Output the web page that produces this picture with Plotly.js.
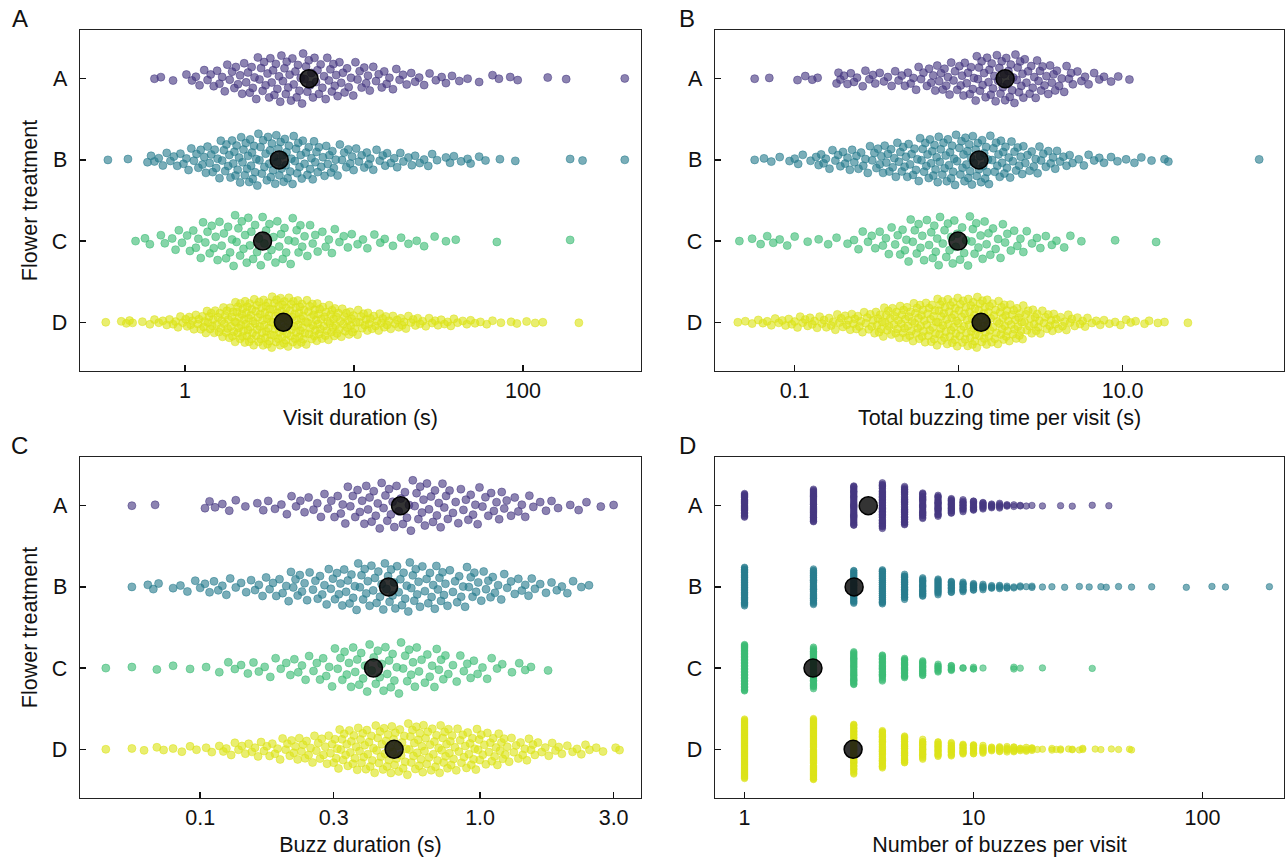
<!DOCTYPE html>
<html><head><meta charset="utf-8">
<script src="https://cdn.plot.ly/plotly-3.0.1.min.js"></script>
<style>html,body{margin:0;padding:0;background:#fff}#chart{width:1286px;height:857px}</style>
</head><body><div id="chart"></div>
<script>
const categories = ['A','B','C','D'];

// ---------- Panel A: Visit duration (s) ----------
const visitA = [0.66,0.72,0.85,1.02,1.1,1.16,1.22,1.3,1.36,1.42,1.48,1.55,1.6,1.66,1.72,1.78,1.84,1.9,1.96,
2.0,2.06,2.12,2.18,2.24,2.3,2.36,2.42,2.48,2.52,2.58,2.64,2.7,2.76,2.82,2.88,2.94,3.0,3.08,3.15,
3.2,3.26,3.32,3.38,3.45,3.52,3.6,3.66,3.72,3.8,3.88,3.95,4.0,4.08,4.16,4.24,4.32,4.4,4.5,4.58,4.66,4.75,4.84,4.93,
5.0,5.1,5.2,5.3,5.4,5.5,5.6,5.72,5.84,5.96,6.08,6.2,6.35,6.5,6.65,6.8,6.95,7.1,7.25,7.4,7.55,7.7,7.85,
8.0,8.2,8.4,8.6,8.8,9.1,9.3,9.6,9.9,10.2,10.5,10.8,11.1,11.5,11.8,12.1,12.4,13,13.5,14,14.6,15.1,15.6,
16.2,17,17.8,18.6,19.5,20.5,21.8,23,24.3,26,28,30.5,33,35,38,42,47,55,66,72,84,93,140,180,400];
const visitB = [0.35,0.46,0.6,0.63,0.66,0.7,0.74,0.78,0.82,0.86,0.9,0.94,0.98,1.02,1.05,1.09,1.13,1.17,1.2,1.24,
1.27,1.3,1.33,1.36,1.4,1.43,1.46,1.5,1.53,1.56,1.6,1.63,1.66,1.7,1.73,1.76,1.8,1.83,1.86,1.9,1.93,1.96,1.99,
2.02,2.05,2.09,2.12,2.15,2.19,2.22,2.26,2.29,2.33,2.36,2.4,2.43,2.46,2.49,2.52,2.56,2.6,2.64,2.68,2.72,2.76,2.8,2.85,2.9,2.95,3.0,3.05,3.1,3.15,3.19,
3.22,3.27,3.32,3.37,3.42,3.47,3.52,3.57,3.62,3.68,3.73,3.78,3.84,3.9,3.95,3.99,4.05,4.12,4.19,4.26,4.33,4.4,4.47,4.54,4.61,4.68,4.76,4.84,4.91,4.98,
5.1,5.2,5.3,5.4,5.5,5.6,5.7,5.8,5.9,6.0,6.1,6.2,6.4,6.55,6.7,6.85,7.0,7.15,7.3,7.45,7.6,7.8,
8.0,8.25,8.5,8.75,9.0,9.25,9.5,9.75,9.95,10.3,10.7,11.1,11.5,11.9,12.2,12.5,13,13.6,14.2,14.8,15.3,15.7,
16.5,17.3,18,18.8,19.6,21,22,23,24.5,26,27.5,29,31,35,37,39,43,47,49,55,60,73,90,190,225,400];
const visitC = [0.51,0.58,0.62,0.72,0.76,0.84,0.88,0.92,0.96,1.03,1.07,1.12,1.16,1.2,1.24,1.28,1.32,1.36,1.4,1.44,1.48,1.52,1.56,
1.6,1.65,1.7,1.75,1.8,1.85,1.9,1.94,1.98,2.02,2.07,2.12,2.17,2.22,2.27,2.32,2.37,2.42,2.47,2.53,2.6,2.67,2.74,2.81,2.88,2.95,3.02,3.09,3.16,
3.25,3.34,3.43,3.52,3.61,3.7,3.79,3.88,3.97,4.1,4.22,4.34,4.46,4.58,4.7,4.82,4.94,5.1,5.3,5.5,5.7,5.9,6.1,
6.5,6.8,7.1,7.4,7.7,8.2,8.7,9.2,9.7,10.5,11.3,12,13.2,14.3,15.2,17,19,21,23.5,26,30,35,40,70,190];
const visitD = [0.34,0.42,0.45,0.47,0.49,0.56,0.62,0.66,0.7,0.74,0.78,0.81,0.85,0.88,0.91,0.94,0.97,
1.01,1.03,1.06,1.08,1.11,1.13,1.16,1.19,1.21,1.24,1.27,1.29,1.31,1.33,1.35,1.37,1.39,1.41,1.43,1.45,1.47,1.49,1.51,1.54,1.57,
1.59,1.61,1.63,1.65,1.67,1.69,1.71,1.73,1.75,1.77,1.79,1.81,1.83,1.85,1.87,1.89,1.91,1.93,1.95,1.97,1.98,1.99,
2.01,2.03,2.05,2.06,2.08,2.1,2.12,2.13,2.15,2.17,2.19,2.2,2.22,2.24,2.26,2.27,2.29,2.31,2.33,2.34,2.36,2.38,2.4,2.41,2.43,2.45,2.47,2.49,
2.51,2.53,2.55,2.57,2.6,2.62,2.64,2.66,2.68,2.7,2.73,2.75,2.77,2.79,2.81,2.84,2.86,2.88,2.9,2.92,2.95,2.97,2.99,3.01,3.03,3.06,3.08,3.1,3.12,3.14,3.16,3.18,
3.21,3.23,3.26,3.28,3.31,3.33,3.36,3.38,3.41,3.43,3.46,3.48,3.51,3.53,3.56,3.58,3.61,3.63,3.66,3.68,3.71,3.73,3.76,3.78,3.81,3.83,3.86,3.88,3.91,3.93,3.96,3.98,
4.02,4.05,4.08,4.12,4.15,4.18,4.22,4.25,4.28,4.32,4.35,4.38,4.42,4.45,4.48,4.52,4.55,4.58,4.62,4.65,4.68,4.72,4.75,4.78,4.82,4.85,4.88,4.92,4.95,4.98,
5.02,5.07,5.12,5.17,5.22,5.27,5.32,5.37,5.42,5.47,5.52,5.57,5.62,5.67,5.72,5.77,5.82,5.87,5.92,5.97,6.02,6.07,6.12,6.17,6.22,6.27,
6.33,6.4,6.47,6.55,6.62,6.69,6.77,6.84,6.91,6.98,7.06,7.13,7.2,7.28,7.35,7.42,7.5,7.57,7.64,7.71,7.79,7.86,
7.95,8.07,8.18,8.3,8.42,8.53,8.65,8.77,8.88,9.0,9.12,9.23,9.35,9.47,9.58,9.7,9.82,9.93,
10.1,10.3,10.5,10.6,10.8,11.0,11.2,11.4,11.6,11.8,12.0,12.1,12.3,12.5,12.8,13.1,13.4,13.7,14.0,14.2,14.5,14.8,15.1,15.4,15.7,
16.1,16.5,17,17.5,18,18.4,18.9,19.3,19.8,20.3,21,21.7,22.4,23.1,23.8,24.6,25.5,26.6,27.8,29,30.2,31.4,32.8,34.3,35.8,37.4,39,
41,44,46.5,49,52,56,61,66,74,85,92,105,118,131,214];
const visitMeans = [5.42, 3.61, 2.88, 3.82];

// ---------- Panel B: Total buzzing time per visit (s) ----------
const buzzTimeA = [0.057,0.07,0.104,0.116,0.128,0.138,0.18,0.185,0.19,0.2,0.21,0.22,0.23,0.24,0.26,0.27,0.285,0.3,0.31,
0.33,0.35,0.37,0.39,0.41,0.43,0.45,0.47,0.49,0.51,0.53,0.55,0.57,0.59,0.61,0.64,0.66,0.68,0.7,0.72,0.74,0.76,0.78,
0.8,0.82,0.84,0.86,0.88,0.9,0.93,0.95,0.98,1.01,1.03,1.05,1.07,1.09,1.12,1.14,1.17,1.19,1.22,1.24,
1.27,1.29,1.31,1.33,1.35,1.38,1.4,1.43,1.46,1.49,1.52,1.54,1.57,1.59,1.62,1.65,1.68,1.71,1.74,1.77,1.8,1.83,1.86,1.89,1.92,1.95,1.98,
2.01,2.05,2.08,2.12,2.15,2.19,2.22,2.26,2.29,2.33,2.37,2.41,2.45,2.48,2.53,2.59,2.65,2.71,2.77,2.83,2.89,2.95,3.01,3.07,3.13,3.18,
3.25,3.34,3.43,3.52,3.61,3.7,3.79,3.88,3.97,4.1,4.25,4.4,4.55,4.7,4.85,4.97,5.3,5.6,5.9,6.2,6.7,7.2,7.7,8.5,9.4,11];
const buzzTimeB = [0.057,0.065,0.072,0.081,0.093,0.1,0.105,0.112,0.125,0.135,0.14,0.145,0.15,0.155,0.163,0.17,0.177,0.184,0.19,0.197,
0.203,0.21,0.217,0.224,0.231,0.238,0.245,0.254,0.262,0.27,0.279,0.288,0.297,0.306,0.315,0.322,0.33,0.338,0.346,0.354,0.362,0.37,0.378,0.387,0.396,
0.405,0.414,0.423,0.432,0.441,0.45,0.459,0.468,0.477,0.486,0.495,0.505,0.516,0.527,0.538,0.549,0.56,0.571,0.582,0.593,0.604,0.615,0.626,
0.635,0.646,0.657,0.668,0.679,0.69,0.701,0.712,0.723,0.734,0.745,0.756,0.767,0.778,0.795,0.808,0.821,0.834,0.847,0.86,0.873,0.886,0.899,0.912,0.925,0.938,0.951,0.964,0.977,
1.01,1.025,1.04,1.055,1.07,1.085,1.1,1.115,1.13,1.145,1.16,1.175,1.19,1.205,1.22,1.235,1.27,1.29,1.31,1.33,1.35,1.37,1.39,1.41,1.43,1.45,1.47,1.49,1.51,1.53,1.56,
1.6,1.63,1.66,1.69,1.72,1.75,1.78,1.81,1.84,1.87,1.9,1.93,1.97,2.02,2.06,2.1,2.14,2.19,2.24,2.29,2.34,2.39,2.44,2.48,
2.55,2.63,2.71,2.79,2.87,2.95,3.03,3.11,3.18,3.28,3.4,3.52,3.64,3.76,3.88,3.98,4.15,4.35,4.55,4.75,4.95,5.4,5.8,6.2,6.7,7.2,7.7,8.5,9.3,10.5,11.8,13,15,18,19,68];
const buzzTimeC = [0.046,0.055,0.062,0.068,0.074,0.081,0.09,0.1,0.12,0.14,0.16,0.18,0.21,0.23,0.245,0.26,0.28,0.295,0.31,
0.33,0.345,0.36,0.375,0.39,0.41,0.425,0.44,0.455,0.47,0.48,0.495,0.51,0.525,0.54,0.555,0.57,0.585,0.6,0.615,
0.64,0.66,0.68,0.695,0.71,0.725,0.74,0.755,0.77,0.8,0.82,0.84,0.86,0.88,0.9,0.92,0.94,0.96,0.98,
1.02,1.05,1.08,1.11,1.14,1.17,1.2,1.22,1.25,1.28,1.32,1.36,1.4,1.44,1.48,1.52,1.56,1.62,1.68,1.74,1.8,1.86,1.92,1.98,
2.08,2.18,2.28,2.38,2.48,2.6,2.8,3.0,3.15,3.4,3.7,3.95,4.4,4.8,5.6,9,16];
const buzzTimeD = [0.045,0.05,0.055,0.06,0.064,0.068,0.072,0.076,0.08,0.084,0.088,0.092,0.096,0.1,0.104,0.108,0.112,0.116,0.12,0.124,
0.128,0.132,0.137,0.142,0.147,0.151,0.156,0.162,0.167,0.172,0.177,0.182,0.187,0.192,0.197,
0.203,0.208,0.213,0.218,0.223,0.228,0.233,0.238,0.243,0.248,0.253,0.259,0.265,0.271,0.277,0.283,0.289,0.295,0.301,0.307,0.313,0.318,
0.322,0.327,0.332,0.337,0.342,0.347,0.352,0.357,0.362,0.367,0.372,0.377,0.383,0.389,0.395,
0.402,0.407,0.413,0.418,0.424,0.429,0.435,0.44,0.446,0.451,0.457,0.462,0.468,0.473,0.479,0.484,0.49,0.496,
0.503,0.509,0.515,0.521,0.527,0.533,0.539,0.545,0.551,0.557,0.563,0.569,0.575,0.581,0.587,0.593,0.599,0.605,0.611,0.617,0.624,
0.632,0.639,0.646,0.653,0.66,0.667,0.674,0.681,0.688,0.695,0.702,0.709,0.716,0.723,0.73,0.737,0.744,0.751,0.758,0.765,0.772,0.778,0.784,0.789,
0.795,0.803,0.811,0.819,0.827,0.835,0.843,0.851,0.859,0.867,0.875,0.883,0.891,0.899,0.907,0.915,0.923,0.931,0.939,0.947,0.955,0.963,0.971,0.979,0.987,0.995,
1.005,1.015,1.025,1.035,1.045,1.055,1.065,1.075,1.085,1.095,1.105,1.115,1.125,1.135,1.145,1.155,1.165,1.175,1.185,1.195,1.205,1.215,1.225,1.235,1.245,1.252,1.258,
1.265,1.277,1.289,1.301,1.313,1.325,1.337,1.349,1.361,1.373,1.385,1.397,1.409,1.421,1.433,1.445,1.457,1.469,1.481,1.493,1.505,1.517,1.529,1.541,1.553,1.567,
1.59,1.608,1.626,1.644,1.662,1.68,1.698,1.716,1.734,1.752,1.77,1.788,1.806,1.824,1.842,1.86,1.878,1.896,1.914,1.932,1.95,1.968,1.986,
2.01,2.036,2.062,2.088,2.114,2.14,2.166,2.192,2.218,2.244,2.27,2.296,2.322,2.348,2.374,2.4,2.426,2.452,2.478,
2.52,2.565,2.61,2.655,2.7,2.745,2.79,2.835,2.88,2.925,2.97,3.015,3.06,3.105,3.15,3.24,3.31,3.38,3.45,3.52,3.59,3.66,3.73,3.8,3.87,3.94,
4.06,4.18,4.3,4.42,4.54,4.66,4.78,4.9,5.1,5.3,5.5,5.7,5.9,6.1,6.5,6.9,7.3,7.7,8.3,9.0,9.7,10.5,11.2,12,13.6,14.5,16.4,18,25];
const buzzTimeMeans = [1.92, 1.33, 0.99, 1.37];

// ---------- Panel C: Buzz duration (s) ----------
const buzzDurA = [0.057,0.069,0.104,0.108,0.113,0.12,0.127,0.134,0.145,0.16,0.168,0.175,0.185,0.195,0.204,0.212,0.22,0.228,0.236,0.244,
0.254,0.262,0.27,0.278,0.286,0.294,0.302,0.31,0.318,0.323,0.33,0.337,0.344,0.351,0.358,0.365,0.372,0.379,0.386,0.392,0.398,
0.403,0.41,0.417,0.424,0.431,0.438,0.445,0.452,0.459,0.466,0.473,0.48,0.487,0.494,0.503,0.512,0.521,0.53,0.539,0.548,0.557,0.566,0.575,0.584,0.593,0.602,0.611,0.62,0.628,
0.635,0.646,0.657,0.668,0.679,0.69,0.701,0.712,0.723,0.734,0.745,0.756,0.767,0.778,0.8,0.818,0.836,0.854,0.872,0.89,0.908,0.926,0.944,0.962,0.98,0.995,
1.02,1.045,1.07,1.095,1.12,1.145,1.17,1.195,1.22,1.245,1.29,1.33,1.37,1.41,1.45,1.5,1.55,1.64,1.72,1.8,1.9,2.1,2.25,2.4,2.7,3.0];
const buzzDurB = [0.057,0.065,0.068,0.071,0.08,0.085,0.09,0.096,0.1,0.104,0.108,0.112,0.116,0.12,0.124,0.128,0.134,0.14,0.146,0.152,0.157,
0.162,0.167,0.172,0.177,0.182,0.187,0.192,0.197,0.203,0.207,0.211,0.215,0.219,0.223,0.227,0.231,0.236,0.241,0.246,
0.253,0.258,0.263,0.268,0.273,0.278,0.283,0.288,0.293,0.298,0.303,0.308,0.313,0.317,0.322,0.327,0.332,0.337,0.342,0.347,0.352,0.357,0.362,0.367,0.372,0.377,0.382,0.387,0.392,0.397,
0.403,0.409,0.415,0.421,0.427,0.433,0.439,0.445,0.451,0.457,0.463,0.469,0.475,0.481,0.487,0.493,0.498,
0.505,0.512,0.519,0.526,0.533,0.54,0.547,0.554,0.561,0.568,0.575,0.582,0.589,0.596,0.603,0.61,0.622,
0.635,0.644,0.653,0.662,0.671,0.68,0.689,0.698,0.707,0.716,0.725,0.734,0.743,0.752,0.765,0.78,
0.8,0.814,0.828,0.842,0.856,0.87,0.884,0.898,0.912,0.926,0.94,0.954,0.968,0.985,1.01,1.03,1.05,1.07,1.09,1.11,1.13,1.16,1.19,1.22,1.25,
1.29,1.33,1.37,1.41,1.45,1.49,1.53,1.57,1.64,1.72,1.8,1.88,1.96,2.05,2.15,2.3,2.45];
const buzzDurC = [0.046,0.057,0.07,0.08,0.092,0.105,0.117,0.126,0.133,0.14,0.148,0.155,0.162,0.17,0.178,0.186,0.194,
0.203,0.21,0.217,0.224,0.231,0.238,0.245,0.254,0.261,0.268,0.275,0.282,0.289,0.296,0.303,0.31,0.317,
0.322,0.328,0.334,0.34,0.346,0.352,0.358,0.364,0.37,0.376,0.382,0.388,0.395,0.403,0.41,0.417,0.424,0.431,0.438,0.445,0.452,0.459,0.466,0.473,0.48,0.487,0.494,
0.504,0.513,0.522,0.531,0.54,0.549,0.558,0.567,0.576,0.585,0.594,0.605,0.618,0.635,0.648,0.661,0.674,0.687,0.7,0.713,0.726,0.739,0.752,0.77,
0.8,0.825,0.85,0.875,0.9,0.925,0.95,0.98,1.02,1.06,1.1,1.15,1.2,1.3,1.38,1.45,1.52,1.75];
const buzzDurD = [0.046,0.057,0.063,0.07,0.074,0.08,0.086,0.092,0.097,0.105,0.11,0.117,0.121,0.124,
0.129,0.133,0.137,0.141,0.145,0.149,0.153,0.157,0.161,0.165,0.169,0.173,0.177,0.181,0.185,0.189,0.193,0.197,
0.202,0.205,0.209,0.212,0.216,0.219,0.223,0.226,0.23,0.233,0.237,0.24,0.244,0.248,
0.252,0.256,0.26,0.264,0.268,0.272,0.276,0.28,0.284,0.288,0.292,0.296,0.3,0.303,0.306,0.309,0.312,0.315,0.318,
0.321,0.324,0.327,0.331,0.334,0.337,0.341,0.344,0.347,0.351,0.354,0.357,0.361,0.364,0.367,0.371,0.374,0.377,0.381,0.384,0.387,0.391,0.394,0.397,
0.401,0.405,0.409,0.412,0.416,0.42,0.424,0.427,0.431,0.435,0.439,0.442,0.446,0.45,0.454,0.457,0.461,0.465,0.469,0.472,0.476,0.48,0.484,0.487,0.491,0.495,0.498,
0.503,0.508,0.512,0.517,0.522,0.526,0.531,0.536,0.54,0.545,0.55,0.554,0.559,0.564,0.568,0.573,0.578,0.582,0.587,0.592,0.596,0.601,0.606,0.61,0.615,0.62,0.624,0.628,
0.633,0.639,0.645,0.651,0.657,0.663,0.669,0.675,0.681,0.687,0.693,0.699,0.705,0.711,0.717,0.723,0.729,0.735,0.741,0.747,0.753,0.759,0.765,0.771,0.777,0.783,0.788,
0.795,0.804,0.813,0.822,0.831,0.84,0.849,0.858,0.867,0.876,0.885,0.894,0.903,0.912,0.921,0.93,0.939,0.948,0.957,0.966,0.975,0.984,0.992,0.998,
1.01,1.023,1.036,1.049,1.062,1.075,1.088,1.101,1.114,1.127,1.14,1.153,1.166,1.179,1.192,1.205,1.218,1.231,1.25,
1.27,1.295,1.32,1.345,1.37,1.395,1.42,1.445,1.47,1.495,1.52,1.545,1.57,1.61,1.66,1.71,1.76,1.81,1.86,1.91,1.96,
2.05,2.14,2.22,2.3,2.38,2.46,2.6,2.75,3.05,3.15];
const buzzDurMeans = [0.52, 0.471, 0.416, 0.493];

// ---------- Panel D: Number of buzzes per visit (value, number of visits) ----------
const buzzNumA = [1,2,3,4,5,6,7,8,9,10,11,12,13,14,15,16,17,18,20,24,27,33,39];
const buzzNumCountA = [26,34,40,46,40,26,22,16,12,10,8,6,5,3,2,2,1,1,1,1,1,1,1];
const buzzNumB = [1,2,3,4,5,6,7,8,9,10,11,12,13,14,15,16,17,18,20,22,25,29,32,36,38,43,49,60,85,110,126,196];
const buzzNumCountB = [40,36,34,34,26,20,16,12,10,8,6,4,4,3,2,2,1,2,1,1,1,1,1,1,1,1,1,1,1,1,1,1];
const buzzNumC = [1,2,3,4,5,6,7,8,9,10,11,15,16,20,33];
const buzzNumCountC = [48,42,34,26,20,16,8,6,2,3,1,2,1,1,1];
const buzzNumD = [1,2,3,4,5,6,7,8,9,10,11,12,13,14,15,16,17,18,19,20,22,23,24,26,27,29,30,34,36,40,43,48,49];
const buzzNumCountD = [62,62,50,38,28,20,16,14,12,10,8,6,6,6,6,4,4,4,1,1,2,1,2,1,2,1,2,1,1,1,1,1,1];
const buzzNumMeans = [3.47, 3.01, 1.99, 2.98];

// ---------- styling ----------
const colors = ['#453781', '#287D8E', '#3CBB75', '#DCE319'];
const FONT = 'Liberation Sans, Arial, Helvetica, sans-serif';
const FS = 21.5;

function rgba(hex, a) {
  const n = parseInt(hex.slice(1), 16);
  return 'rgba(' + ((n >> 16) & 255) + ',' + ((n >> 8) & 255) + ',' + (n & 255) + ',' + a + ')';
}
function expandCounts(vals, counts) {
  const out = [];
  vals.forEach((v, i) => { for (let k = 0; k < counts[i]; k++) out.push(v); });
  return out;
}
// van der Corput sequence (quasirandom swarm layout)
function vdc(n) { let v = 0, d = 1; while (n > 0) { d *= 2; v += (n % 2) / d; n = Math.floor(n / 2); } return v; }
function swarmOffsets(vals, bw, halfWidth) {
  const lv = vals.map(v => Math.log10(v));
  const dens = lv.map(x => lv.reduce((s, y) => s + Math.exp(-0.5 * Math.pow((x - y) / bw, 2)), 0));
  const dmax = Math.max.apply(null, dens);
  const order = lv.map((v, i) => i).sort((a, b) => lv[a] - lv[b]);
  const off = new Array(vals.length);
  order.forEach((idx, rank) => { off[idx] = halfWidth * (dens[idx] / dmax) * (2 * vdc(rank + 1) - 1); });
  return off;
}

const panels = [
  {groups: [visitA, visitB, visitC, visitD], means: visitMeans, bw: 0.07, half: [0.32, 0.33, 0.34, 0.32], size: 8, xa: 'x', ya: 'y'},
  {groups: [buzzTimeA, buzzTimeB, buzzTimeC, buzzTimeD], means: buzzTimeMeans, bw: 0.07, half: [0.32, 0.33, 0.33, 0.32], size: 8, xa: 'x2', ya: 'y2'},
  {groups: [buzzDurA, buzzDurB, buzzDurC, buzzDurD], means: buzzDurMeans, bw: 0.05, half: [0.32, 0.32, 0.33, 0.32], size: 8, xa: 'x3', ya: 'y3'},
  {groups: [expandCounts(buzzNumA, buzzNumCountA), expandCounts(buzzNumB, buzzNumCountB),
            expandCounts(buzzNumC, buzzNumCountC), expandCounts(buzzNumD, buzzNumCountD)],
   means: buzzNumMeans, bw: 0.008, half: [0.285, 0.25, 0.3, 0.385], size: 6.5, xa: 'x4', ya: 'y4'}
];

const traces = [];
panels.forEach(p => {
  p.groups.forEach((g, gi) => {
    const off = swarmOffsets(g, p.bw, p.half[gi]);
    traces.push({
      type: 'scatter', mode: 'markers', xaxis: p.xa, yaxis: p.ya,
      x: g, y: off.map(o => gi + o), name: categories[gi], showlegend: false, hoverinfo: 'skip',
      marker: {size: p.size, color: rgba(colors[gi], 0.62), line: {width: 0.7, color: rgba(colors[gi], 0.75)}}
    });
  });
  traces.push({
    type: 'scatter', mode: 'markers', xaxis: p.xa, yaxis: p.ya,
    x: p.means, y: [0, 1, 2, 3], showlegend: false, hoverinfo: 'skip',
    marker: {size: 18, color: 'rgba(17,17,17,0.85)', line: {width: 1.5, color: '#000'}}
  });
});

const W = 1286, H = 857;
const dxL = [80 / W, 641 / W], dxR = [715 / W, 1284 / W];
const dyT = [1 - 371 / H, 1 - 30 / H], dyB = [1 - 798 / H, 1 - 457 / H];

function xAxis(domain, anchor, range, tv, tt, title) {
  return {
    type: 'log', domain: domain, anchor: anchor, range: range,
    tickmode: 'array', tickvals: tv, ticktext: tt,
    ticks: 'inside', ticklen: 6, tickwidth: 1.5, tickcolor: '#111',
    showline: true, linecolor: '#222', linewidth: 1.3, mirror: true,
    showgrid: false, zeroline: false,
    tickfont: {family: FONT, size: FS, color: '#111'},
    title: {text: title, font: {family: FONT, size: FS, color: '#111'}, standoff: 8}
  };
}
function yAxis(domain, anchor, title) {
  return {
    domain: domain, anchor: anchor, range: [3.6, -0.6],
    tickmode: 'array', tickvals: [0, 1, 2, 3], ticktext: categories,
    ticks: 'inside', ticklen: 6, tickwidth: 1.5, tickcolor: '#111', ticklabelstandoff: 7,
    showline: true, linecolor: '#222', linewidth: 1.3, mirror: true,
    showgrid: false, zeroline: false,
    tickfont: {family: FONT, size: FS, color: '#111'},
    title: {text: title, font: {family: FONT, size: FS, color: '#111'}, standoff: 8}
  };
}

const panelLetters = [['A', 10, 18], ['B', 677, 18], ['C', 9, 445], ['D', 677, 445]];

const layout = {
  width: W, height: H,
  margin: {l: 0, r: 0, t: 0, b: 0},
  paper_bgcolor: '#fff', plot_bgcolor: '#fff',
  hovermode: false, showlegend: false,
  font: {family: FONT, color: '#111'},
  xaxis: xAxis(dxL, 'y', [-0.621, 2.698], [1, 10, 100], ['1', '10', '100'], 'Visit duration (s)'),
  yaxis: yAxis(dyT, 'x', 'Flower treatment'),
  xaxis2: xAxis(dxR, 'y2', [-1.486, 1.984], [0.1, 1, 10], ['0.1', '1.0', '10.0'], 'Total buzzing time per visit (s)'),
  yaxis2: yAxis(dyT, 'x2', ''),
  xaxis3: xAxis(dxL, 'y3', [-1.4295, 0.575], [0.1, 0.3, 1, 3], ['0.1', '0.3', '1.0', '3.0'], 'Buzz duration (s)'),
  yaxis3: yAxis(dyB, 'x3', 'Flower treatment'),
  xaxis4: xAxis(dxR, 'y4', [-0.129, 2.356], [1, 10, 100], ['1', '10', '100'], 'Number of buzzes per visit'),
  yaxis4: yAxis(dyB, 'x4', ''),
  annotations: panelLetters.map(l => ({
    text: l[0], xref: 'paper', yref: 'paper', x: l[1] / W, y: 1 - l[2] / H,
    xanchor: 'left', yanchor: 'middle', showarrow: false,
    font: {family: FONT, size: 24, color: '#111'}
  }))
};

Plotly.newPlot('chart', traces, layout, {displayModeBar: false, staticPlot: true});
</script></body></html>
